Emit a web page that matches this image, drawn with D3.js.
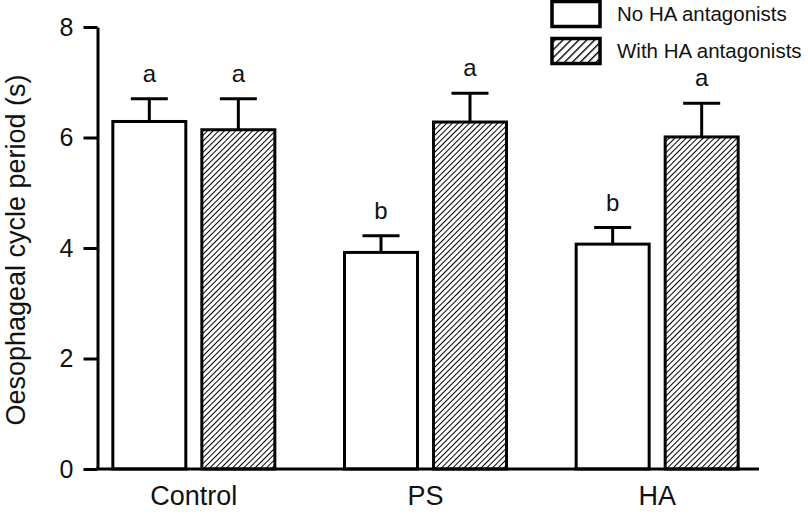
<!DOCTYPE html>
<html>
<head>
<meta charset="utf-8">
<script src="https://cdn.jsdelivr.net/npm/d3@7"></script>
<style>
  body { margin: 0; background: #fff; }
  svg { display: block; }
  text { font-family: "Liberation Sans", Arial, sans-serif; fill: #111; }
</style>
</head>
<body>
<svg id="chart" width="808" height="514"></svg>
<script>
// ---- Data ----
const categories = ["Control", "PS", "HA"];
const seriesNames = ["No HA antagonists", "With HA antagonists"];
const noHA = [6.29, 3.92, 4.07];
const noHAErr = [0.41, 0.30, 0.30];
const withHA = [6.14, 6.28, 6.01];
const withHAErr = [0.56, 0.52, 0.61];
const noHALetters = ["a", "b", "b"];
const withHALetters = ["a", "a", "a"];
const yTicks = [0, 2, 4, 6, 8];
const yLabel = "Oesophageal cycle period (s)";

const rows = [];
categories.forEach((c, i) => {
  rows.push({ cat: c, series: seriesNames[0], value: noHA[i], err: noHAErr[i], letter: noHALetters[i] });
  rows.push({ cat: c, series: seriesNames[1], value: withHA[i], err: withHAErr[i], letter: withHALetters[i] });
});

const svg = d3.select("#chart");

// patterns
const defs = svg.append("defs");
const pat = defs.append("pattern").attr("id", "hatch")
  .attr("patternUnits", "userSpaceOnUse").attr("width", 4).attr("height", 4)
  .attr("patternTransform", "rotate(45)");
pat.append("rect").attr("width", 4).attr("height", 4).attr("fill", "#fff");
pat.append("line").attr("x1", 0).attr("y1", 0).attr("x2", 0).attr("y2", 4)
  .attr("stroke", "#000").attr("stroke-width", 2);
const pat2 = defs.append("pattern").attr("id", "hatchLegend")
  .attr("patternUnits", "userSpaceOnUse").attr("width", 5.6).attr("height", 5.6)
  .attr("patternTransform", "rotate(45)");
pat2.append("rect").attr("width", 5.6).attr("height", 5.6).attr("fill", "#fff");
pat2.append("line").attr("x1", 0).attr("y1", 0).attr("x2", 0).attr("y2", 5.6)
  .attr("stroke", "#000").attr("stroke-width", 2.8);

// scales
const y = d3.scaleLinear().domain([0, 8]).range([469, 27]);
const x0 = d3.scaleBand().domain(categories).range([78, 773]).padding(0);
const pairW = 162;
const x1 = d3.scaleBand().domain(seriesNames)
  .range([x0.bandwidth() / 2 - pairW / 2, x0.bandwidth() / 2 + pairW / 2])
  .paddingInner(0.18).paddingOuter(0);
const fillOf = s => s === seriesNames[0] ? "#fff" : "url(#hatch)";

// bars
const g = svg.append("g");
const bars = g.selectAll("g.bar").data(rows).enter().append("g").attr("class", "bar")
  .attr("transform", d => `translate(${x0(d.cat) + x1(d.series)},0)`);

// error bars
bars.append("line")
  .attr("x1", x1.bandwidth() / 2).attr("x2", x1.bandwidth() / 2)
  .attr("y1", d => y(d.value)).attr("y2", d => y(d.value + d.err))
  .attr("stroke", "#000").attr("stroke-width", 3);
bars.append("line")
  .attr("x1", x1.bandwidth() / 2 - 18.5).attr("x2", x1.bandwidth() / 2 + 18.5)
  .attr("y1", d => y(d.value + d.err)).attr("y2", d => y(d.value + d.err))
  .attr("stroke", "#000").attr("stroke-width", 3);

bars.append("rect")
  .attr("x", 0).attr("width", x1.bandwidth())
  .attr("y", d => y(d.value)).attr("height", d => y(0) - y(d.value))
  .attr("fill", d => fillOf(d.series))
  .attr("stroke", "#000").attr("stroke-width", 3);

bars.append("text")
  .attr("x", x1.bandwidth() / 2)
  .attr("y", d => y(d.value + d.err) - 17)
  .attr("text-anchor", "middle")
  .attr("font-size", 24)
  .text(d => d.letter);

// y axis
const yAxis = d3.axisLeft(y).tickValues(yTicks).tickSize(14).tickSizeOuter(0).tickPadding(10)
  .tickFormat(d3.format("d"));
const ya = svg.append("g").attr("transform", "translate(97.5,0)").call(yAxis);
ya.select(".domain").attr("stroke", "#000").attr("stroke-width", 3);
ya.selectAll(".tick line").attr("stroke", "#000").attr("stroke-width", 3);
ya.selectAll(".tick text").attr("font-size", 25).attr("fill", "#111")
  .attr("font-family", "Liberation Sans, Arial, sans-serif");

// x axis line
svg.append("line").attr("x1", 96).attr("x2", 759)
  .attr("y1", y(0)).attr("y2", y(0))
  .attr("stroke", "#000").attr("stroke-width", 3);

// category labels
svg.selectAll("text.cat").data(categories).enter().append("text").attr("class", "cat")
  .attr("x", d => x0(d) + x0.bandwidth() / 2)
  .attr("y", 505)
  .attr("text-anchor", "middle")
  .attr("font-size", 27)
  .text(d => d);

// y label
svg.append("text")
  .attr("transform", `translate(25,${(27 + 469) / 2 + 2}) rotate(-90)`)
  .attr("text-anchor", "middle")
  .attr("font-size", 27)
  .text(yLabel);

// legend
const legend = svg.append("g");
seriesNames.forEach((s, i) => {
  const ly = 1.5 + i * 37;
  legend.append("rect").attr("x", 552).attr("y", ly).attr("width", 48).attr("height", 25)
    .attr("fill", i === 0 ? "#fff" : "url(#hatchLegend)")
    .attr("stroke", "#000").attr("stroke-width", 3.5);
  legend.append("text").attr("x", 617).attr("y", ly + 12.5).attr("dy", "0.35em")
    .attr("font-size", 20.5).text(s);
});
</script>
</body>
</html>
